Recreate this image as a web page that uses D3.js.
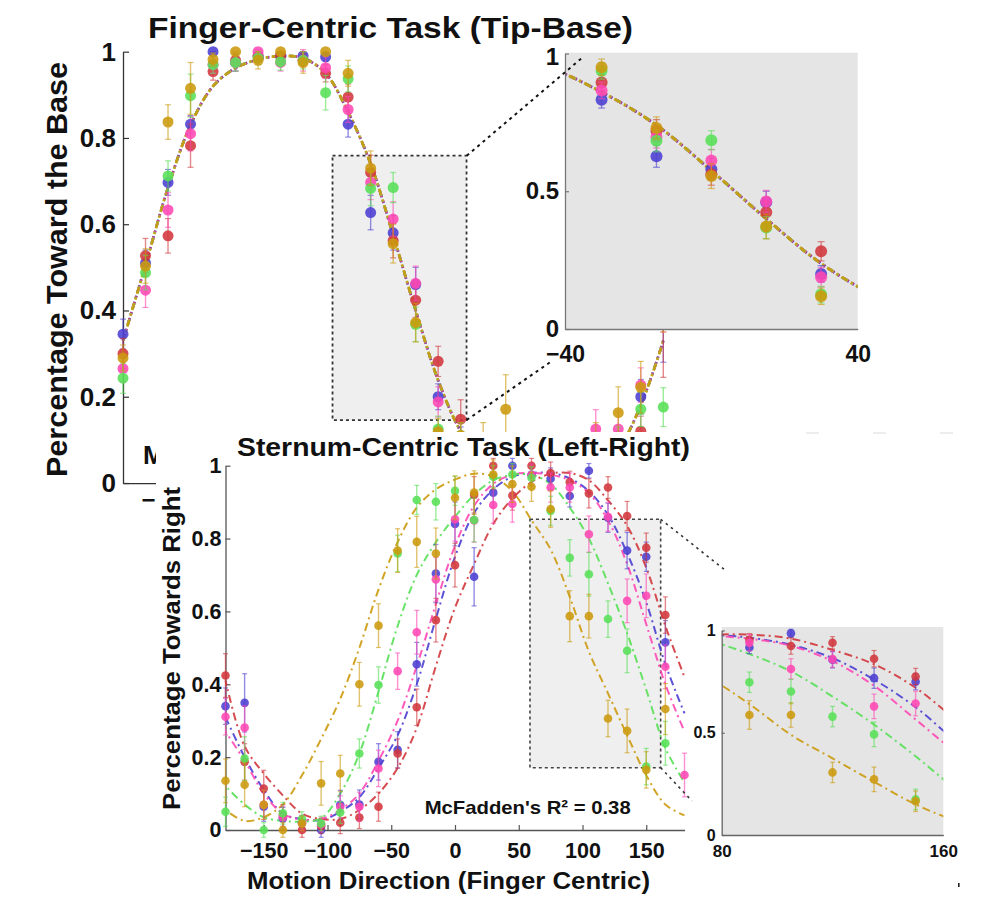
<!DOCTYPE html>
<html><head><meta charset="utf-8">
<script src="https://cdn.jsdelivr.net/npm/d3@7"></script>
<style>
body{margin:0;background:#fff}
svg{display:block}
text{font-family:"Liberation Sans",Arial,Helvetica,sans-serif;font-weight:bold;fill:#111}
</style>
</head><body>
<svg id="c" width="985" height="901"></svg>
<script>
// ---------------- DATA ----------------
const angles = [-180,-165,-150,-135,-120,-105,-90,-75,-60,-45,-30,-15,0,15,30,45,60,75,90,105,120,135,150,165,180];
const seriesNames = ["blue","red","pink","green","gold"];
const seriesColors = ["#4b3fd1","#d2373c","#ff48b4","#58e058","#cc9a0e"];

// Finger-centric task (tip-base): proportion toward the base
const topBlue  = [0.345,0.51,0.697,0.832,1.0,0.975,0.99,0.99,0.99,0.988,0.832,0.627,0.58,0.46,0.20,0.10,0.04,0.02,0.01,0.0,0.02,0.05,0.08,0.20,0.42];
const topRed   = [0.30,0.527,0.573,0.782,0.954,0.98,0.99,0.99,0.98,0.95,0.895,0.72,0.562,0.424,0.282,0.148,0.06,0.03,0.0,0.01,0.03,0.06,0.09,0.12,0.40];
const topPink  = [0.265,0.447,0.633,0.81,0.97,0.975,1.0,0.975,0.98,0.963,0.866,0.697,0.612,0.463,0.188,0.09,0.04,0.02,0.01,0.02,0.05,0.125,0.125,0.227,0.40];
const topGreen = [0.243,0.488,0.712,0.898,0.97,0.975,0.985,0.977,0.98,0.905,0.937,0.683,0.685,0.368,0.125,0.11,0.05,0.02,0.01,0.02,0.03,0.06,0.10,0.171,0.176];
const topGold  = [0.29,0.503,0.837,0.915,0.982,1.0,0.98,1.0,0.975,1.0,0.95,0.73,0.555,0.372,0.119,0.11,0.09,0.171,0.03,0.06,0.07,0.10,0.163,0.222,0.40];

const topErrBlue  = [0.035,0.03,0.03,0.02,0.0,0.02,0.01,0.01,0.01,0.01,0.03,0.04,0.04,0.04,0.03,0.03,0.02,0.01,0.01,0.0,0.01,0.02,0.03,0.04,0.14];
const topErrRed   = [0.035,0.04,0.04,0.05,0.02,0.015,0.01,0.01,0.015,0.02,0.03,0.04,0.04,0.04,0.035,0.045,0.03,0.02,0.0,0.01,0.02,0.03,0.03,0.035,0.155];
const topErrPink  = [0.03,0.04,0.04,0.04,0.02,0.02,0.0,0.02,0.025,0.025,0.03,0.04,0.04,0.04,0.035,0.03,0.02,0.01,0.01,0.02,0.03,0.045,0.04,0.04,0.05];
const topErrGreen = [0.035,0.04,0.035,0.05,0.02,0.02,0.015,0.02,0.02,0.04,0.03,0.04,0.035,0.04,0.03,0.03,0.02,0.01,0.01,0.02,0.02,0.03,0.03,0.04,0.045];
const topErrGold  = [0.03,0.04,0.04,0.06,0.015,0.0,0.02,0.0,0.025,0.0,0.03,0.04,0.045,0.045,0.03,0.03,0.05,0.08,0.02,0.03,0.04,0.04,0.06,0.06,0.05];

// fitted curve (all five fits nearly coincide)
const topFit = [0.33,0.505,0.685,0.83,0.92,0.962,0.982,0.99,0.985,0.95,0.86,0.74,0.575,0.40,0.238,0.12,0.05,0.02,0.01,0.01,0.02,0.04,0.08,0.18,0.33];

// Sternum-centric task (left-right): proportion towards right
const botBlue  = [0.34,0.349,0.064,0.032,0.02,0.0,0.069,0.07,0.187,0.22,0.455,0.704,0.84,0.695,0.926,1.0,0.975,0.964,0.917,0.986,0.857,0.767,0.75,0.515,null];
const botRed   = [0.424,0.187,0.114,0.04,0.0,0.01,0.02,0.034,0.064,0.21,0.337,0.576,0.727,0.92,1.0,0.918,1.0,0.98,0.955,0.924,0.94,0.862,0.775,0.59,null];
const botPink  = [0.311,0.281,0.069,0.035,0.02,0.015,0.064,0.064,0.169,0.436,0.543,0.688,0.853,0.85,0.892,0.895,0.975,0.94,0.94,0.812,0.86,0.629,0.643,0.448,0.151];
const botGreen = [0.05,0.196,0.0,0.046,0.03,0.018,0.048,0.21,0.398,0.759,0.906,0.901,0.931,0.851,0.97,0.976,0.967,0.876,0.747,0.702,0.579,0.492,0.174,0.238,null];
const botGold  = [0.135,0.124,0.069,0.0,0.018,0.128,0.155,0.40,0.561,0.767,0.791,0.759,0.912,0.926,0.976,0.949,0.942,0.881,0.587,0.587,0.306,0.272,0.165,0.332,null];

const botErrBlue  = [0.05,0.08,0.04,0.03,0.02,0.02,0.04,0.04,0.05,0.05,0.06,0.08,0.06,0.08,0.04,0.02,0.03,0.03,0.03,0.02,0.04,0.05,0.04,0.06,0];
const botErrRed   = [0.06,0.05,0.05,0.03,0.02,0.02,0.03,0.03,0.04,0.04,0.05,0.06,0.06,0.05,0.02,0.04,0.02,0.03,0.03,0.04,0.03,0.04,0.04,0.05,0];
const botErrPink  = [0.05,0.06,0.04,0.03,0.02,0.02,0.03,0.04,0.05,0.05,0.06,0.06,0.06,0.06,0.05,0.05,0.03,0.04,0.04,0.05,0.04,0.06,0.06,0.06,0.06];
const botErrGreen = [0.04,0.06,0.02,0.03,0.02,0.02,0.03,0.04,0.05,0.05,0.04,0.05,0.04,0.06,0.03,0.03,0.03,0.04,0.05,0.06,0.05,0.06,0.05,0.06,0];
const botErrGold  = [0.06,0.06,0.04,0.02,0.02,0.06,0.05,0.06,0.06,0.06,0.07,0.07,0.06,0.06,0.04,0.05,0.04,0.05,0.07,0.06,0.05,0.06,0.05,0.07,0];

const botFitBlue  = [0.31,0.20,0.11,0.045,0.03,0.027,0.05,0.09,0.17,0.26,0.40,0.58,0.75,0.87,0.935,0.97,0.98,0.98,0.965,0.93,0.865,0.76,0.625,0.455,0.32];
const botFitRed   = [0.41,0.23,0.155,0.095,0.045,0.03,0.03,0.055,0.10,0.17,0.28,0.45,0.61,0.73,0.84,0.91,0.955,0.978,0.98,0.96,0.905,0.835,0.72,0.56,0.42];
const botFitPink  = [0.27,0.19,0.10,0.045,0.028,0.03,0.055,0.10,0.19,0.30,0.45,0.62,0.78,0.89,0.95,0.975,0.98,0.975,0.96,0.925,0.85,0.73,0.565,0.40,0.27];
const botFitGreen = [0.12,0.07,0.035,0.025,0.023,0.032,0.10,0.21,0.38,0.56,0.70,0.79,0.86,0.92,0.96,0.975,0.975,0.95,0.885,0.80,0.677,0.54,0.385,0.225,0.13];
const botFitGold  = [0.055,0.025,0.035,0.07,0.15,0.25,0.36,0.50,0.66,0.79,0.885,0.935,0.962,0.978,0.97,0.93,0.85,0.77,0.64,0.49,0.375,0.26,0.15,0.07,0.04];

const yTicksMain = [0,0.2,0.4,0.6,0.8,1];
const xTicksMain = [-150,-100,-50,0,50,100,150];
const topInsetXTicks = [-40,40];
const botInsetXTicks = [80,160];
const insetYTicks = [0,0.5,1];
const topTitle = "Finger-Centric Task (Tip-Base)";
const topYLabel = "Percentage Toward the Base";
const topR2Visible = "M";   // rest of the top panel's R² note is hidden behind the lower figure
const botTitle = "Sternum-Centric Task (Left-Right)";
const botYLabel = "Percentage Towards Right";
const botXLabel = "Motion Direction (Finger Centric)";
const botR2 = "McFadden's R\u00B2 = 0.38";

// ---------------- DRAWING ----------------
const svg = d3.select("#c");
const defs = svg.append("defs");
const fmt = d => d === 0 ? "0" : d === 1 ? "1" : String(d);

function drawSeries(g, x, y, ptsArr, errArr, fitArr, opt) {
  const line = d3.line().x(d => x(d[0])).y(d => y(d[1])).curve(d3.curveCatmullRom.alpha(0.5));
  const cg = g.append("g");
  if (opt.clip) cg.attr("clip-path", `url(#${opt.clip})`);
  fitArr.forEach((f, i) => {
    cg.append("path")
      .attr("d", line(angles.map((a, j) => [a, f[j]])))
      .attr("fill", "none")
      .attr("stroke", seriesColors[i])
      .attr("stroke-width", opt.lw)
      .attr("stroke-opacity", 0.9)
      .attr("stroke-dasharray", opt.dash)
      .attr("stroke-dashoffset", i * opt.off);
  });
  const pg = g.append("g");
  ptsArr.forEach((arr, i) => {
    const data = angles.map((a, j) => ({a, v: arr[j], e: errArr[i][j]}))
      .filter(d => d.v !== null && d.a >= opt.xmin && d.a <= opt.xmax);
    const sg = pg.append("g");
    const c = seriesColors[i];
    sg.selectAll(".eb").data(data).join("line")
      .attr("x1", d => x(d.a)).attr("x2", d => x(d.a))
      .attr("y1", d => y(d.v - d.e)).attr("y2", d => y(d.v + d.e))
      .attr("stroke", c).attr("stroke-width", 1.4).attr("stroke-opacity", 0.6);
    [-1, 1].forEach(s => {
      sg.selectAll(null).data(data).join("line")
        .attr("x1", d => x(d.a) - opt.cap).attr("x2", d => x(d.a) + opt.cap)
        .attr("y1", d => y(d.v + s * d.e)).attr("y2", d => y(d.v + s * d.e))
        .attr("stroke", c).attr("stroke-width", 1.2).attr("stroke-opacity", 0.6);
    });
    sg.selectAll("circle").data(data).join("circle")
      .attr("cx", d => x(d.a)).attr("cy", d => y(d.v)).attr("r", opt.r)
      .attr("fill", c).attr("fill-opacity", 0.88);
  });
}

function styleAxis(g, size, color) {
  g.selectAll("path.domain").attr("stroke", color).attr("stroke-width", 1.3);
  g.selectAll(".tick line").attr("stroke", color).attr("stroke-width", 1.2);
  g.selectAll(".tick text").attr("font-size", size).attr("fill", "#222");
  g.attr("font-family", null);
}

// ===== Top panel (Finger-Centric) =====
const xT = d3.scaleLinear().domain([-180, 180]).range([123, 663.3]);
const yT = d3.scaleLinear().domain([0, 1]).range([483, 51.7]);
const topG = svg.append("g");
defs.append("clipPath").attr("id", "clipLeft").append("rect")
  .attr("x", 0).attr("y", 0).attr("width", 156).attr("height", 901);

// zoom region box
topG.append("rect")
  .attr("x", xT(-40.4)).attr("y", yT(0.759))
  .attr("width", xT(48.9) - xT(-40.4)).attr("height", yT(0.146) - yT(0.759))
  .attr("fill", "#efefef").attr("stroke", "#333").attr("stroke-width", 1.8)
  .attr("stroke-dasharray", "3,3");

const yAxT = topG.append("g").attr("transform", `translate(${xT(-180)},0)`)
  .call(d3.axisLeft(yT).tickValues(yTicksMain).tickFormat(fmt).tickSizeInner(-6).tickSizeOuter(0).tickPadding(7));
styleAxis(yAxT, 26, "#333");
const xAxT = topG.append("g").attr("transform", `translate(0,${yT(0)})`).attr("clip-path", "url(#clipLeft)")
  .call(d3.axisBottom(xT).tickValues(xTicksMain.slice(0, 1)).tickSizeInner(-6).tickSizeOuter(0).tickPadding(20));
styleAxis(xAxT, 24, "#333");
xAxT.selectAll(".tick text").attr("dy", "0.2em");

topG.append("text").attr("x", 143).attr("y", 464).attr("font-size", 26)
  .attr("clip-path", "url(#clipLeft)").text(topR2Visible);

drawSeries(topG, xT, yT, [topBlue, topRed, topPink, topGreen, topGold],
  [topErrBlue, topErrRed, topErrPink, topErrGreen, topErrGold],
  [topFit, topFit, topFit, topFit, topFit],
  {lw: 2.6, dash: "7,4,2,4", off: 0.5, r: 5.5, cap: 3, xmin: -180, xmax: 180});

topG.append("text").attr("x", 148).attr("y", 37.5).attr("font-size", 29)
  .attr("textLength", 485).attr("lengthAdjust", "spacingAndGlyphs").text(topTitle);
topG.append("text").attr("transform", `translate(67,${269.5}) rotate(-90)`)
  .attr("text-anchor", "middle").attr("font-size", 29)
  .attr("textLength", 415).attr("lengthAdjust", "spacingAndGlyphs").text(topYLabel);

// top inset
const xTI = d3.scaleLinear().domain([-40, 40]).range([565, 857.7]);
const yTI = d3.scaleLinear().domain([0, 1]).range([329, 53.5]);
defs.append("clipPath").attr("id", "clipTI").append("rect")
  .attr("x", 565).attr("y", 52.7).attr("width", 857.7 - 565).attr("height", 329 - 52.7);
const ti = svg.append("g");
ti.append("rect").attr("x", 565).attr("y", 52.7).attr("width", 857.7 - 565).attr("height", 329 - 52.7)
  .attr("fill", "#e5e5e5");
drawSeries(ti, xTI, yTI, [topBlue, topRed, topPink, topGreen, topGold],
  [topErrBlue, topErrRed, topErrPink, topErrGreen, topErrGold],
  [topFit, topFit, topFit, topFit, topFit],
  {lw: 2.8, dash: "7,4,2,4", off: 0.5, r: 6, cap: 3.5, xmin: -40, xmax: 40, clip: "clipTI"});
const tiy = ti.append("g").attr("transform", "translate(565,0)")
  .call(d3.axisLeft(yTI).tickValues(insetYTicks).tickFormat(fmt).tickSizeInner(-4).tickSizeOuter(0).tickPadding(6));
styleAxis(tiy, 24, "#777");
tiy.selectAll(".tick text").filter(d => d === 1).attr("dy", "0.45em");
const tix = ti.append("g").attr("transform", "translate(0,329)")
  .call(d3.axisBottom(xTI).tickValues(topInsetXTicks).tickSizeInner(0).tickSizeOuter(0).tickPadding(17));
styleAxis(tix, 23, "#777");

// connectors (top)
const conn = [[466.7,155.7,583,57],[466.7,420,550,362.3]];
svg.append("g").selectAll("line").data(conn).join("line")
  .attr("x1", d => d[0]).attr("y1", d => d[1]).attr("x2", d => d[2]).attr("y2", d => d[3])
  .attr("stroke", "#111").attr("stroke-width", 2).attr("stroke-dasharray", "3,4");

// ===== cover (bottom figure background) =====
svg.append("rect").attr("x", 156).attr("y", 432).attr("width", 985 - 156).attr("height", 901 - 432).attr("fill", "#fff");
svg.append("line").attr("x1", 806).attr("x2", 955).attr("y1", 433).attr("y2", 433)
  .attr("stroke", "#dcdcdc").attr("stroke-width", 1.2).attr("stroke-dasharray", "13,54");

// ===== Bottom panel (Sternum-Centric) =====
const xB = d3.scaleLinear().domain([-180, 180]).range([225.5, 684.5]);
const yB = d3.scaleLinear().domain([0, 1]).range([830, 465.7]);
const bot = svg.append("g");
bot.append("rect")
  .attr("x", xB(58.8)).attr("y", yB(0.853))
  .attr("width", xB(161.3) - xB(58.8)).attr("height", yB(0.171) - yB(0.853))
  .attr("fill", "#efefef").attr("stroke", "#444").attr("stroke-width", 1.6)
  .attr("stroke-dasharray", "3,3");

const yAxB = bot.append("g").attr("transform", `translate(${xB(-180)},0)`)
  .call(d3.axisLeft(yB).tickValues(yTicksMain).tickFormat(fmt).tickSizeInner(-5).tickSizeOuter(0).tickPadding(4));
styleAxis(yAxB, 21.5, "#555");
const xAxB = bot.append("g").attr("transform", `translate(0,${yB(0)})`)
  .call(d3.axisBottom(xB).tickValues(xTicksMain).tickSizeInner(-5).tickSizeOuter(0).tickPadding(13));
styleAxis(xAxB, 21.5, "#555");

drawSeries(bot, xB, yB, [botBlue, botRed, botPink, botGreen, botGold],
  [botErrBlue, botErrRed, botErrPink, botErrGreen, botErrGold],
  [botFitBlue, botFitRed, botFitPink, botFitGreen, botFitGold],
  {lw: 2, dash: "8,4,2,4", off: 3, r: 4.3, cap: 2.5, xmin: -180, xmax: 180});

bot.append("text").attr("x", 237).attr("y", 455.5).attr("font-size", 26)
  .attr("textLength", 453).attr("lengthAdjust", "spacingAndGlyphs").text(botTitle);
bot.append("text").attr("transform", `translate(180,648.5) rotate(-90)`)
  .attr("text-anchor", "middle").attr("font-size", 23)
  .attr("textLength", 323).attr("lengthAdjust", "spacingAndGlyphs").text(botYLabel);
bot.append("text").attr("x", 448.5).attr("y", 889).attr("text-anchor", "middle").attr("font-size", 24)
  .attr("textLength", 403).attr("lengthAdjust", "spacingAndGlyphs").text(botXLabel);
bot.append("text").attr("x", 424.7).attr("y", 814).attr("font-size", 18.5)
  .attr("textLength", 206).attr("lengthAdjust", "spacingAndGlyphs").text(botR2);

// bottom connectors
const conn2 = [[660.7,519.3,725,570],[660.7,767.7,692,801]];
svg.append("g").selectAll("line").data(conn2).join("line")
  .attr("x1", d => d[0]).attr("y1", d => d[1]).attr("x2", d => d[2]).attr("y2", d => d[3])
  .attr("stroke", "#333").attr("stroke-width", 1.6).attr("stroke-dasharray", "2.5,4");

// bottom inset
const xBI = d3.scaleLinear().domain([80, 160]).range([721.7, 943.3]);
const yBI = d3.scaleLinear().domain([0, 1]).range([835, 630.5]);
defs.append("clipPath").attr("id", "clipBI").append("rect")
  .attr("x", 721.7).attr("y", 627).attr("width", 943.3 - 721.7).attr("height", 835 - 627);
const bi = svg.append("g");
bi.append("rect").attr("x", 721.7).attr("y", 627).attr("width", 943.3 - 721.7).attr("height", 835 - 627)
  .attr("fill", "#e5e5e5");
drawSeries(bi, xBI, yBI, [botBlue, botRed, botPink, botGreen, botGold],
  [botErrBlue, botErrRed, botErrPink, botErrGreen, botErrGold],
  [botFitBlue, botFitRed, botFitPink, botFitGreen, botFitGold],
  {lw: 2, dash: "8,4,2,4", off: 3, r: 4.3, cap: 2.5, xmin: 80, xmax: 160, clip: "clipBI"});
const biy = bi.append("g").attr("transform", "translate(721.7,0)")
  .call(d3.axisLeft(yBI).tickValues(insetYTicks).tickFormat(fmt).tickSizeInner(-3).tickSizeOuter(0).tickPadding(6));
styleAxis(biy, 16, "#666");
const bix = bi.append("g").attr("transform", "translate(0,835)")
  .call(d3.axisBottom(xBI).tickValues(botInsetXTicks).tickSizeInner(0).tickSizeOuter(0).tickPadding(10));
styleAxis(bix, 17, "#666");

// small stray mark bottom-right
svg.append("rect").attr("x", 958).attr("y", 883).attr("width", 1.6).attr("height", 4).attr("fill", "#222");
</script>
</body></html>
